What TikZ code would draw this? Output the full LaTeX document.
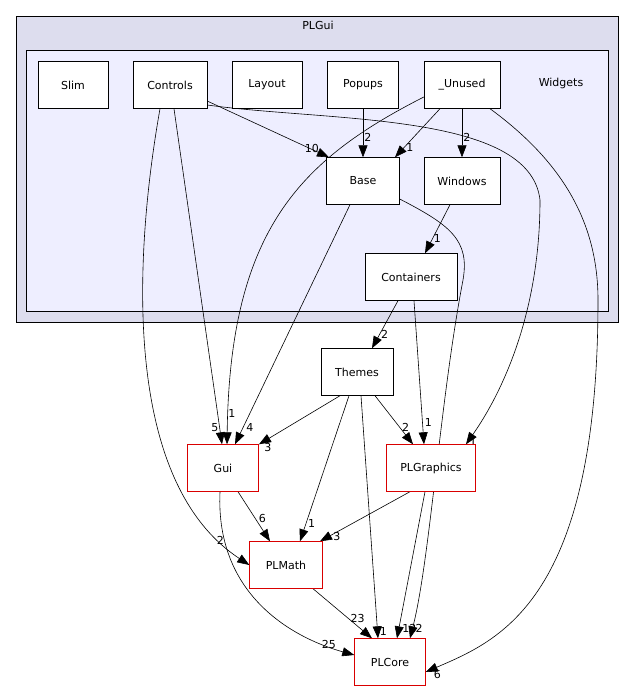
\documentclass[tikz,border=0pt]{standalone}
\usepackage{fontspec}
\setmainfont{DejaVu Sans}
\usetikzlibrary{arrows.meta}
\pgfdeclarelayer{bg}
\pgfsetlayers{bg,main}
\begin{document}
\begin{tikzpicture}[x=1pt,y=-1pt,
  box/.style={draw=black,fill=white,minimum height=47pt,inner sep=0pt,font=\fontsize{11}{13}\selectfont},
  rbox/.style={box,draw=red!85!black},
  e/.style={-{Triangle[length=12pt,width=9pt]},semithick},
  lb/.style={font=\fontsize{11}{13}\selectfont,inner sep=0pt}]
\useasboundingbox (0,0) rectangle (635,691);
\begin{pgfonlayer}{bg}
\fill[white] (0,0) rectangle (635,691);
\draw[fill={rgb,255:red,221;green,221;blue,238}] (16,16) rectangle (618,322);
\draw[fill={rgb,255:red,238;green,238;blue,255}] (26,50) rectangle (608,311);
\end{pgfonlayer}
\node[lb] (t1) at (318,25) {PLGui};
\node[lb] (t2) at (561,83) {Widgets};
\node[box,minimum width=70pt] (slim) at (73,85) {Slim};
\node[box,minimum width=74pt] (ctrl) at (170,85) {Controls};
\node[box,minimum width=70pt] (lay) at (267,85) {Layout};
\node[box,minimum width=71pt] (pop) at (363,85) {Popups};
\node[box,minimum width=76pt] (unu) at (462,85) {\_Unused};
\node[box,minimum width=73pt] (base) at (363,181) {Base};
\node[box,minimum width=76pt] (win) at (462,181) {Windows};
\node[box,minimum width=92pt] (cont) at (411,277) {Containers};
\node[box,minimum width=72pt] (them) at (357,372) {Themes};
\node[rbox,minimum width=71pt] (gui) at (223,468) {Gui};
\node[rbox,minimum width=89pt] (plg) at (431,468) {PLGraphics};
\node[rbox,minimum width=73pt] (plm) at (286,565) {PLMath};
\node[rbox,minimum width=71pt] (plc) at (390,662) {PLCore};

\begin{pgfonlayer}{bg}
\draw[e] ([yshift=-16pt]ctrl.east) -- ([xshift=-34pt]base.north) node[lb,pos=0.92,above left]{10};
\draw[e] ([xshift=4pt]ctrl.south) -- ([xshift=-1pt]gui.north) node[lb,pos=0.95,left=1pt]{5};
\draw[e] ([xshift=-10pt]ctrl.south) .. controls (135,250) and (120,480) .. (plm.west) node[lb,pos=0.93,above left]{2};
\draw[e] ([yshift=-20pt]ctrl.east) .. controls (330,122) and (530,112) .. (540,200) .. controls (540,330) and (490,410) .. ([xshift=35pt]plg.north) node[lb,pos=0.97,right=1pt]{1};
\draw[e] (pop.south) -- (base.north) node[lb,pos=0.6,right=1pt]{2};
\draw[e] ([xshift=-22pt]unu.south) -- ([xshift=32pt]base.north) node[lb,pos=0.8,right=2pt]{1};
\draw[e] (unu.south) -- (win.north) node[lb,pos=0.6,right=1pt]{2};
\draw[e] ([yshift=-12pt]unu.west) .. controls (300,160) and (230,230) .. ([xshift=4pt]gui.north) node[lb,pos=0.95,right=0pt]{1};
\draw[e] ([xshift=28pt]unu.south) .. controls (560,160) and (598,220) .. (598,300) .. controls (598,600) and (500,640) .. ([yshift=-10pt]plc.east) node[lb,pos=0.97,below right=1pt]{6};
\draw[e] ([xshift=-13pt]base.south) -- ([xshift=12pt]gui.north) node[lb,pos=0.93,right=3pt]{4};
\draw[e] ([yshift=-18pt]base.east) .. controls (450,225) and (470,240) .. (463,280) .. controls (440,400) and (430,560) .. ([xshift=20pt]plc.north) node[lb,pos=0.96,right=3pt]{2};
\draw[e] ([xshift=-12pt]win.south) -- ([xshift=14pt]cont.north) node[lb,pos=0.7,right=1pt]{1};
\draw[e] ([xshift=-13pt]cont.south) -- ([xshift=15pt]them.north) node[lb,pos=0.7,right=1pt]{2};
\draw[e] ([xshift=3pt]cont.south) -- ([xshift=-7pt]plg.north) node[lb,pos=0.85,right=2pt]{1};
\draw[e] ([xshift=-17pt]them.south) -- ([xshift=36pt]gui.north) node[lb,pos=0.95,below right=1pt]{3};
\draw[e] ([xshift=18pt]them.south) -- ([xshift=-18pt]plg.north) node[lb,pos=0.65,right=2pt]{2};
\draw[e] ([xshift=-8pt]them.south) -- ([xshift=14pt]plm.north) node[lb,pos=0.88,right=2pt]{1};
\draw[e] ([xshift=4pt]them.south) -- ([xshift=-12pt]plc.north) node[lb,pos=0.97,right=2pt]{1};
\draw[e] ([xshift=15pt]gui.south) -- ([xshift=-16pt]plm.north) node[lb,pos=0.55,right=3pt]{6};
\draw[e] ([xshift=-3pt]gui.south) .. controls (215,600) and (300,640) .. ([yshift=7pt]plc.west) node[lb,pos=0.9,above left=1pt]{25};
\draw[e] ([xshift=-21pt]plg.south) -- ([xshift=34pt]plm.north) node[lb,pos=0.9,right=4pt]{3};
\draw[e] ([xshift=-6pt]plg.south) -- ([xshift=7pt]plc.north) node[lb,pos=0.93,right=3pt]{12};
\draw[e] ([xshift=27pt]plm.south) -- ([xshift=-18pt]plc.north) node[lb,pos=0.6,right=2pt]{23};
\end{pgfonlayer}
\end{tikzpicture}
\end{document}
